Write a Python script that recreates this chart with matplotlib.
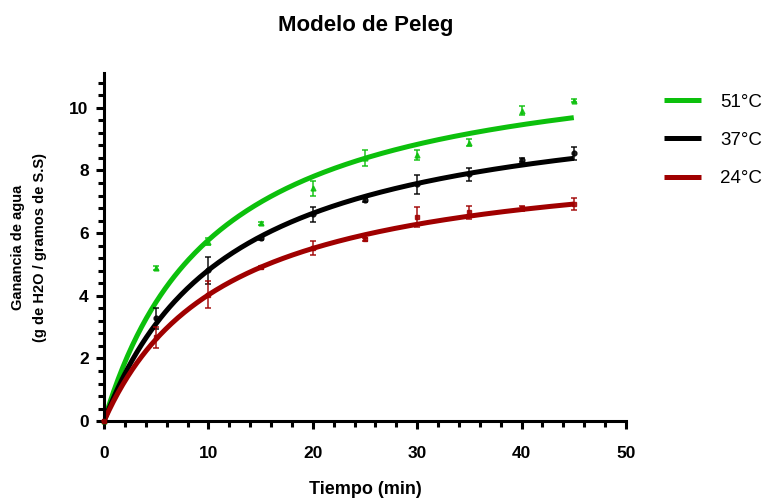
import matplotlib.pyplot as plt
import numpy as np
from matplotlib.ticker import MultipleLocator

plt.rcParams['font.family'] = ['Liberation Sans', 'DejaVu Sans']

# tiempos de muestreo (min)
tiempo = [0, 5, 10, 15, 20, 25, 30, 35, 40, 45]

# ganancia de agua medida (g H2O / g S.S) y desviaciones
g51 = [0, 4.88, 5.73, 6.32, 7.43, 8.39, 8.50, 8.89, 9.91, 10.22]
e51 = [0, 0.06, 0.10, 0.05, 0.23, 0.26, 0.15, 0.12, 0.15, 0.05]
g37 = [0, 3.28, 4.82, 5.84, 6.61, 7.06, 7.56, 7.88, 8.34, 8.55]
e37 = [0, 0.33, 0.43, 0.05, 0.24, 0.05, 0.30, 0.20, 0.07, 0.20]
g24 = [0, 2.67, 4.03, 4.91, 5.52, 5.81, 6.53, 6.66, 6.79, 6.93]
e24 = [0, 0.32, 0.43, 0.05, 0.23, 0.05, 0.32, 0.20, 0.07, 0.20]

# parametros del ajuste de Peleg: k1, k2
k51 = (0.897, 0.0833)
k37 = (1.135, 0.0940)
k24 = (1.334, 0.1147)

etiquetas = ["51°C", "37°C", "24°C"]
colores = ["#0cc00c", "#000000", "#a00000"]
marcadores = ["^", "o", "s"]

fig = plt.figure(figsize=(7.82, 4.99), dpi=100)
ax = fig.add_axes([0.133, 0.156, 0.6675, 0.697])

t = np.linspace(0, 45, 300)
series = [(g51, e51, k51), (g37, e37, k37), (g24, e24, k24)]
for (g, e, k), lab, c, m in zip(series, etiquetas, colores, marcadores):
    ax.errorbar(tiempo, g, yerr=e, fmt=m, color=c, ms=3.5, ecolor=c,
                elinewidth=1.2, capsize=2.5, capthick=1.2, alpha=0.85,
                clip_on=False, zorder=3)
    ax.plot(t, t / (k[0] + k[1] * t), color=c, lw=3.6, label=lab,
            solid_capstyle="butt", zorder=2)

ax.set_xlim(0, 50)
ax.set_ylim(0, 11.1)
ax.xaxis.set_major_locator(MultipleLocator(10))
ax.xaxis.set_minor_locator(MultipleLocator(2))
ax.yaxis.set_major_locator(MultipleLocator(2))
ax.yaxis.set_minor_locator(MultipleLocator(0.4))

for s in ["top", "right"]:
    ax.spines[s].set_visible(False)
for s in ["left", "bottom"]:
    ax.spines[s].set_linewidth(2.2)
ax.tick_params(which="major", length=6, width=2.2, labelsize=12.5)
ax.tick_params(axis="x", which="major", pad=12)
ax.tick_params(axis="y", which="major", pad=5)
ax.tick_params(which="minor", length=4, width=2.2)
for lbl in ax.get_xticklabels() + ax.get_yticklabels():
    lbl.set_fontweight("bold")

ax.set_xlabel("Tiempo (min)", fontsize=13, fontweight="bold", labelpad=14)
ax.set_ylabel("Ganancia de agua\n(g de H2O / gramos de S.S)", fontsize=10.5,
              fontweight="bold", labelpad=16, linespacing=1.7)
fig.suptitle("Modelo de Peleg", x=0.467, y=0.97, fontsize=16, fontweight="bold")

ax.legend(loc="upper left", bbox_to_anchor=(1.04, 0.99), frameon=False,
          fontsize=13.5, handlelength=2.0, handletextpad=1.0, labelspacing=1.12)

plt.savefig("out.png", dpi=100)
